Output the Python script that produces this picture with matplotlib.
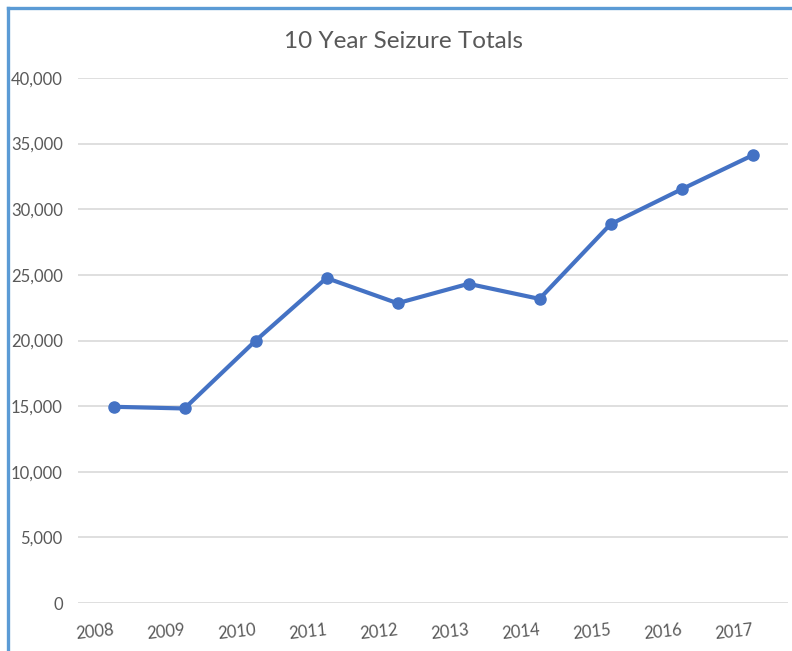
import matplotlib
matplotlib.use("Agg")
import matplotlib.pyplot as plt
from matplotlib.lines import Line2D
from matplotlib.ticker import FuncFormatter

years = ["2008", "2009", "2010", "2011", "2012", "2013", "2014", "2015", "2016", "2017"]
seizures = [14950, 14820, 19980, 24760, 22840, 24320, 23170, 28860, 31520, 34110]
y_ticks = [0, 5000, 10000, 15000, 20000, 25000, 30000, 35000, 40000]
title = "10 Year Seizure Totals"

plt.rcParams['font.family'] = ['Lato', 'DejaVu Sans']
text_color = "#595959"

fig = plt.figure(figsize=(7.92, 6.51), dpi=100)
ax = fig.add_axes([78/792, 1-603/651, (788-78)/792, (603-78)/651])

x = list(range(len(years)))
ax.plot(x, seizures, color="#4472C4", linewidth=3, marker="o", markersize=8,
        solid_capstyle="round", zorder=3)

ax.set_xlim(-0.5, len(years) - 0.5)
ax.set_ylim(0, 40000)
ax.set_yticks(y_ticks)
ax.yaxis.set_major_formatter(FuncFormatter(lambda v, p: f"{int(v):,}"))
ax.grid(axis="y", color="#D9D9D9", linewidth=1.2)
ax.set_axisbelow(True)
for s in ax.spines.values():
    s.set_visible(False)
ax.tick_params(axis="both", length=0, colors=text_color, labelsize=12)
ax.tick_params(axis="y", pad=11)
ax.set_xticks(x)
ax.set_xticklabels(years)
for lbl in ax.get_xticklabels():
    lbl.set_rotation(6)
    lbl.set_ha("right")
    lbl.set_rotation_mode("anchor")
ax.tick_params(axis="x", pad=14)

fig.text(404/792, 1-42/651, title, ha="center", va="center", fontsize=17.5, color=text_color)

# blue frame on top and left
fig.add_artist(Line2D([8/792, 8/792], [0, 1-7.5/651], transform=fig.transFigure,
                      color="#5B9BD5", linewidth=2.4))
fig.add_artist(Line2D([8/792, 1], [1-7.5/651, 1-7.5/651], transform=fig.transFigure,
                      color="#5B9BD5", linewidth=2.4))

fig.savefig("out.png", dpi=100)
